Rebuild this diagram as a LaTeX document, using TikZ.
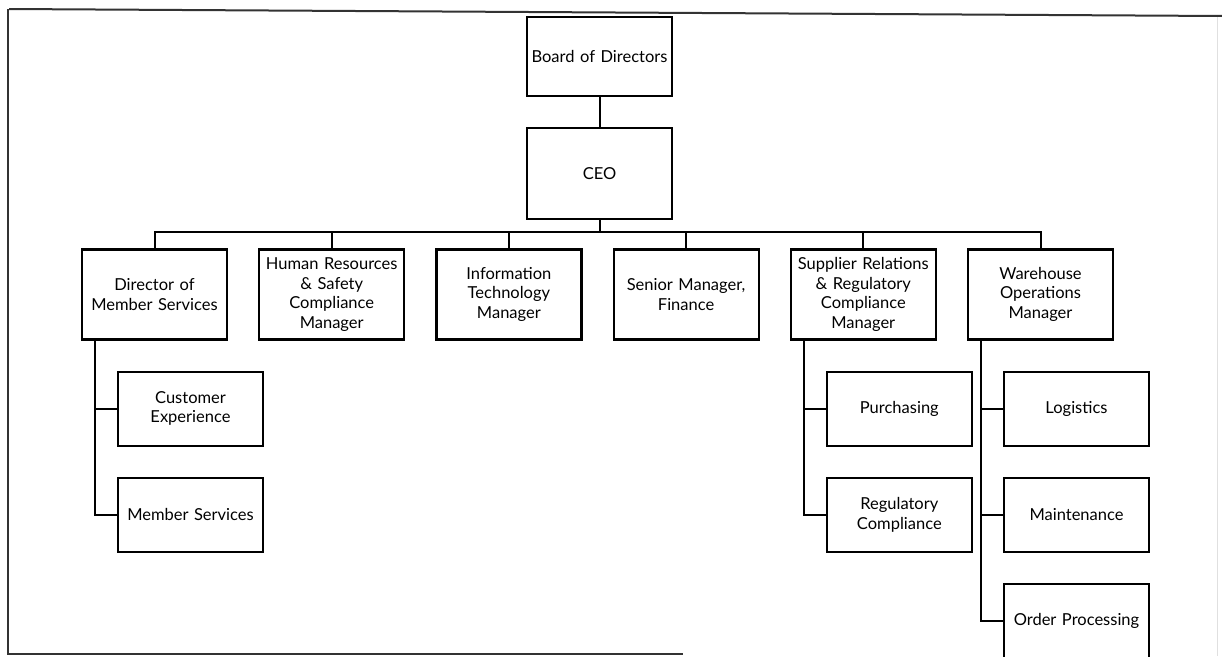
\documentclass[tikz,border=0pt]{standalone}
\usepackage{fontspec}
\setmainfont{Lato}
\usetikzlibrary{positioning, calc}

\tikzset{
  unit/.style={draw, line width=2.2pt, minimum width=145pt, align=center,
    inner sep=1pt, text width=143pt, font=\fontsize{16.5}{19.5}\selectfont},
  head/.style={unit, minimum height=90pt},
  team/.style={unit, minimum height=74pt},
  link/.style={line width=2pt},
  frame/.style={line width=2pt, black!80}
}

\begin{document}
\begin{tikzpicture}[x=1pt, y=-1pt]
	\useasboundingbox (0,0) rectangle (1222,656);
	% page frame
	\draw[frame] (9,9) -- (1222,16);
	\draw[frame] (8,9) -- (8,654) -- (683,654);
	\draw[black!12, line width=1pt] (1217,17) -- (1217,656);

	\node[unit, minimum height=79pt] (board) at (599.5,56.5) {Board of Directors};
	\node[unit, minimum height=91pt] (ceo) [below=30pt of board] {CEO};

	\node[head] (it) [below left=28pt and 17pt of ceo.south] {Information\\Technology\\Manager};
	\node[head] (hr) [left=30pt of it] {Human Resources\\\& Safety\\Compliance\\Manager};
	\node[head] (dms) [left=30pt of hr] {Director of\\Member Services};
	\node[head] (fin) [right=30pt of it] {Senior Manager,\\Finance};
	\node[head] (sup) [right=30pt of fin] {Supplier Relations\\\& Regulatory\\Compliance\\Manager};
	\node[head] (wh) [right=30pt of sup] {Warehouse\\Operations\\Manager};

	\node[team] (cx) [below=30pt of dms.south west, anchor=north west, xshift=36pt] {Customer\\Experience};
	\node[team] (ms) [below=30pt of cx] {Member Services};
	\node[team] (pur) [below=30pt of sup.south west, anchor=north west, xshift=36pt] {Purchasing};
	\node[team] (reg) [below=30pt of pur] {Regulatory\\Compliance};
	\node[team] (log) [below=30pt of wh.south west, anchor=north west, xshift=36pt] {Logistics};
	\node[team] (mnt) [below=30pt of log] {Maintenance};
	\node[team] (ord) [below=30pt of mnt] {Order Processing};

	\coordinate (bus) at ([yshift=-12pt]ceo.south);
	\coordinate (dmsline) at ([xshift=14pt]dms.south west);
	\coordinate (supline) at ([xshift=14pt]sup.south west);
	\coordinate (whline) at ([xshift=14pt]wh.south west);

	\draw[link] (board) -- (ceo);
	\draw[link] (ceo.south) -- (bus);
	\draw[link] (dms.north) |- (bus) -| (wh.north);
	\foreach \n in {hr, it, fin, sup}
	    \draw[link] (\n.north) -- (\n.north |- bus);

	\draw[link] (dmsline) |- (ms.west);
	\draw[link] (cx.west) -- (cx.west -| dmsline);
	\draw[link] (supline) |- (reg.west);
	\draw[link] (pur.west) -- (pur.west -| supline);
	\draw[link] (whline) |- (ord.west);
	\foreach \n in {log, mnt}
	    \draw[link] (\n.west) -- (\n.west -| whline);
\end{tikzpicture}
\end{document}
